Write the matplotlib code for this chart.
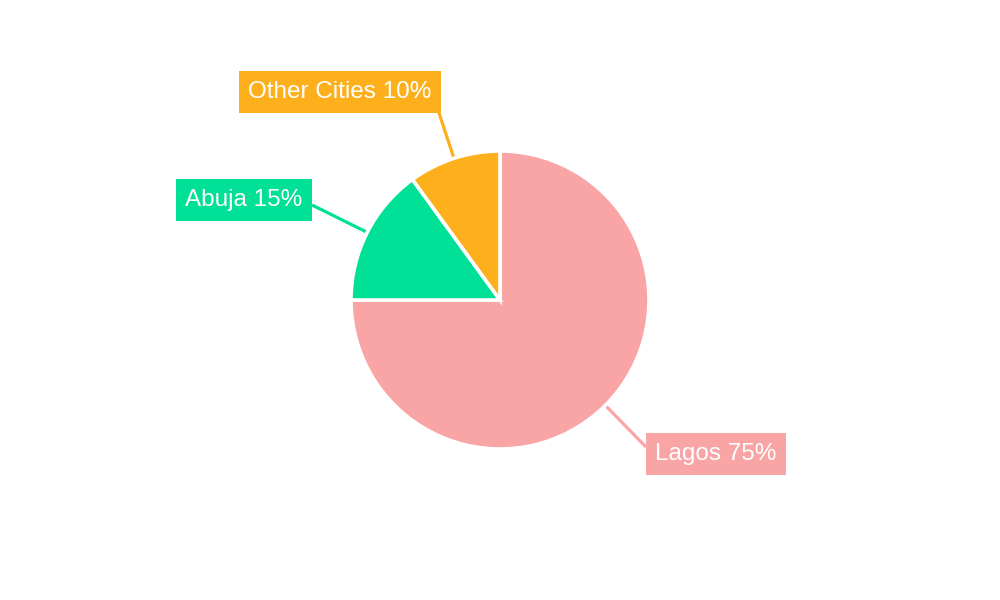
import numpy as np
import matplotlib
matplotlib.use("Agg")
import matplotlib.pyplot as plt

categories = ["Lagos", "Abuja", "Other Cities"]
values = [75, 15, 10]
colors = ["#F9A5A6", "#00E096", "#FDB01B"]

# layout (pixel coordinates, y from top)
W, H = 1000, 600
cx, cy, R = 500, 300, 149
line_ends = {"Lagos": (646, 447), "Abuja": (312, 205), "Other Cities": (438, 110)}
box_centers = {"Lagos": (716, 454), "Abuja": (244, 200), "Other Cities": (340, 92)}

plt.rcParams['font.family'] = ['Liberation Sans', 'DejaVu Sans']
fig = plt.figure(figsize=(W / 100, H / 100), dpi=100)
ax = fig.add_axes([0, 0, 1, 1])

wedges, _ = ax.pie(values, colors=colors, startangle=90, counterclock=False,
                   center=(cx, H - cy), radius=R,
                   wedgeprops=dict(edgecolor='white', linewidth=2.6))

for w, cat, col in zip(wedges, categories, colors):
    mid = np.deg2rad((w.theta1 + w.theta2) / 2)
    x0 = cx + (R - 2) * np.cos(mid)
    y0 = (H - cy) + (R - 2) * np.sin(mid)
    ex, ey = line_ends[cat]
    ax.plot([x0, ex], [y0, H - ey], color=col, lw=2.3, solid_capstyle='butt', zorder=0)
    bx, by = box_centers[cat]
    pct = values[categories.index(cat)]
    ax.text(bx, H - by, f"{cat} {pct}%", ha='center', va='center', color='white',
            fontsize=17.5, zorder=3,
            bbox=dict(boxstyle='square,pad=0.4', fc=col, ec='none'))

ax.set_xlim(0, W)
ax.set_ylim(0, H)
ax.set_aspect('equal')
ax.axis('off')

fig.savefig("out.png", dpi=100)
